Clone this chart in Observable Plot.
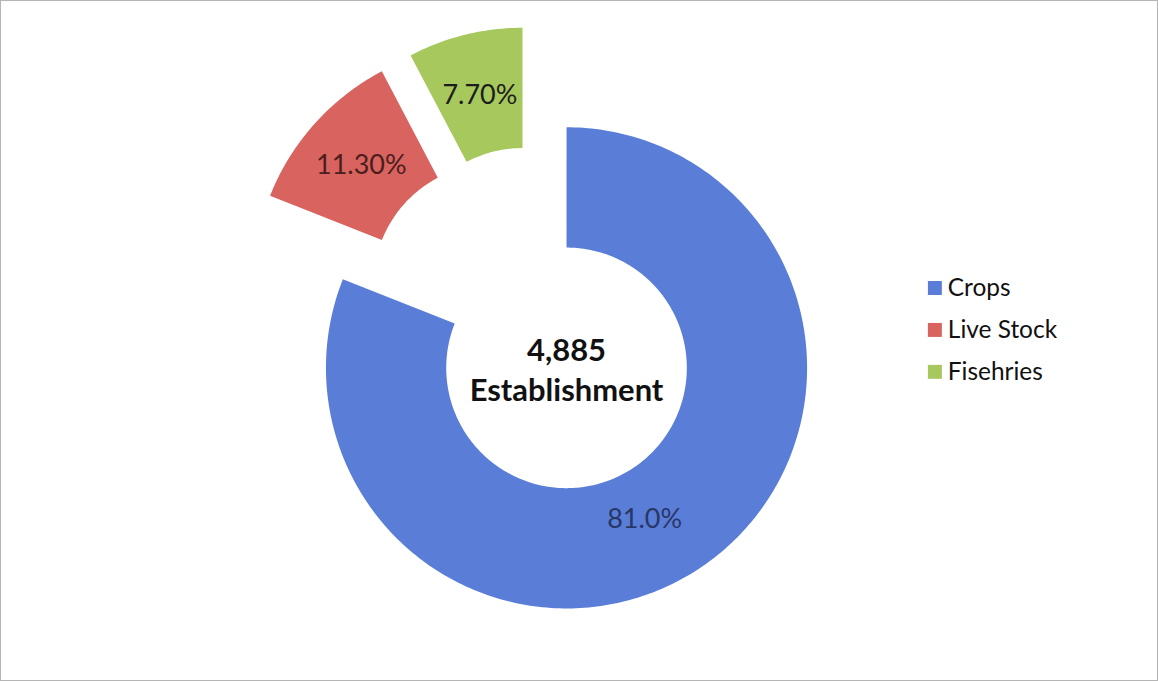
<!DOCTYPE html>
<html>
<head>
<meta charset="utf-8">
<script src="https://cdn.jsdelivr.net/npm/d3@7"></script>
<script src="https://cdn.jsdelivr.net/npm/@observablehq/plot@0.6"></script>
<style>
  html, body { margin: 0; padding: 0; background: #fff; }
  #frame { position: relative; width: 1158px; height: 681px; box-sizing: border-box; border: 1px solid #b5b5b5; overflow: hidden; background: #fff; }
  #frame svg { position: absolute; left: -1px; top: -1px; }
</style>
</head>
<body>
<div id="frame"></div>
<script>
// ---- data ----
const categories = ["Crops", "Live Stock", "Fisehries"];
const shares = [81.0, 11.3, 7.7];
const shareLabels = ["81.0%", "11.30%", "7.70%"];
const exploded = [false, true, true];
const centerLines = ["4,885", "Establishment"];

// ---- style ----
const colors = ["#5a7dd8", "#d9635e", "#a7c85c"];
const labelColors = ["#283766", "#4a1e1e", "#1c1c1c"];
const W = 1158, H = 681;
const cx = 567, cy = 368, R = 241;   // pixel layout of the doughnut
const inner = 0.5;                    // hole size (fraction of outer radius)
const deg = Math.PI / 180;
const explodeDist = [0, 111 / R, 109 / R];  // explosion distance (fraction of radius)
const explodeRot = [0, 7 * deg, -10 * deg]; // explosion direction tweak vs mid-angle
const labelRot = [7 * deg, 0, 0];
const labelR = [0.71, 0.74, 0.74];
const font = "Lato, 'Open Sans', sans-serif";

const rows = categories.map((c, i) => ({cat: c, share: shares[i], label: shareLabels[i], exploded: exploded[i], i}));
const arcs = d3.pie().sort(null).value(d => d.share)(rows);

function offsetOf(a) {
  const i = a.data.i;
  if (!a.data.exploded) return [0, 0];
  const m = (a.startAngle + a.endAngle) / 2 + explodeRot[i];
  return [explodeDist[i] * Math.sin(m), explodeDist[i] * Math.cos(m)];
}

// slice outlines in unit-radius data space (y up)
const outline = [];
for (const a of arcs) {
  const [ox, oy] = offsetOf(a);
  const n = Math.max(8, Math.ceil((a.endAngle - a.startAngle) / deg));
  for (let k = 0; k <= n; k++) {
    const t = a.startAngle + (a.endAngle - a.startAngle) * k / n;
    outline.push({cat: a.data.cat, x: ox + Math.sin(t), y: oy + Math.cos(t)});
  }
  for (let k = n; k >= 0; k--) {
    const t = a.startAngle + (a.endAngle - a.startAngle) * k / n;
    outline.push({cat: a.data.cat, x: ox + inner * Math.sin(t), y: oy + inner * Math.cos(t)});
  }
}

const labelRows = arcs.map(a => {
  const [ox, oy] = offsetOf(a);
  const i = a.data.i;
  const m = (a.startAngle + a.endAngle) / 2 + labelRot[i];
  return {cat: a.data.cat, text: a.data.label, i, x: ox + labelR[i] * Math.sin(m), y: oy + labelR[i] * Math.cos(m)};
});

// legend rows laid out by index in data units
const legX = (936 - cx) / R, legY0 = (cy - 288) / R, legStep = 42 / R;
const legendRows = categories.map((c, i) => ({cat: c, x: legX, y: legY0 - i * legStep}));

const chart = Plot.plot({
  width: W,
  height: H,
  margin: 0,
  style: {background: "transparent", fontFamily: font, overflow: "visible"},
  x: {domain: [-1, 1], range: [cx - R, cx + R], axis: null},
  y: {domain: [-1, 1], range: [cy + R, cy - R], axis: null},
  color: {domain: categories, range: colors},
  marks: [
    Plot.line(outline, {x: "x", y: "y", z: "cat", fill: "cat", stroke: null, curve: "linear-closed"}),
    ...labelRows.map(d => Plot.text([d], {x: "x", y: "y", text: "text", fill: labelColors[d.i], fontSize: 27})),
    Plot.text([centerLines.join("\n")], {x: () => 0, y: () => 0, text: d => d, fontSize: 31, fontWeight: "bold", fill: "#111", lineHeight: 1.3, dy: 0}),
    Plot.dot(legendRows, {x: "x", y: "y", fill: "cat", symbol: "square", r: 7.9}),
    Plot.text(legendRows, {x: "x", y: "y", text: "cat", textAnchor: "start", dx: 13, fontSize: 24.5, fill: "#111"})
  ]
});
document.getElementById("frame").appendChild(chart);
</script>
</body>
</html>
